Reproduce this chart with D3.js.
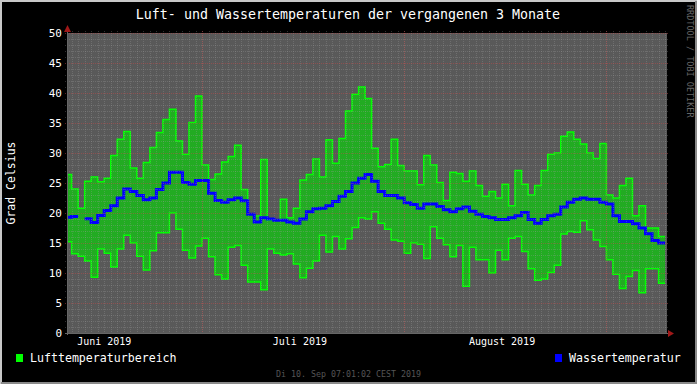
<!DOCTYPE html>
<html><head><meta charset="utf-8">
<script src="https://cdn.jsdelivr.net/npm/d3@7"></script>
<style>html,body{margin:0;padding:0;background:#000;overflow:hidden}</style>
</head><body><svg id="c" width="697" height="384"></svg>
<script>
// ---- data (one value per day, first entry = partial day 10. Juni) ----
const firstDay = "2019-06-10";
const airMax = [26.4,24.0,20.8,25.3,26.0,25.2,25.8,29.6,32.3,33.6,27.5,25.8,28.4,30.9,33.4,35.6,37.3,32.0,29.8,35.1,39.5,
 28.0,25.6,26.5,28.5,29.4,31.3,23.9,19.8,19.5,28.9,18.8,18.8,22.3,19.2,20.8,25.5,26.4,29.0,26.0,32.2,28.3,32.4,37.0,39.8,41.0,39.1,30.8,27.7,28.1,32.3,27.9,
 27.0,27.0,24.7,29.6,28.0,25.1,22.1,26.8,26.6,25.3,27.0,24.6,22.8,23.6,22.5,24.8,21.2,27.1,24.8,23.0,24.6,27.1,29.8,30.0,32.8,33.5,32.3,31.5,30.0,29.1,31.6,
 23.0,22.5,24.6,25.8,19.55,21.2,17.5,17.5,16.1];
const airMin = [15.2,13.2,12.8,12.0,9.3,14.0,13.3,11.0,14.0,16.3,15.0,12.8,10.5,13.7,16.7,16.7,20.0,17.3,13.8,12.5,14.5,
 15.8,12.7,9.7,9.0,14.3,14.6,11.3,8.5,8.5,7.2,14.0,13.3,13.0,13.2,11.5,9.2,10.8,12.0,16.3,13.5,16.1,14.0,15.7,17.6,19.2,19.0,20.2,18.3,17.3,15.5,15.3,
 13.3,15.0,14.8,12.4,17.7,15.8,14.7,12.7,14.6,7.8,14.3,12.2,12.2,10.0,13.8,12.2,15.8,16.1,13.6,10.7,8.8,9.0,10.1,11.3,16.5,16.9,16.8,18.7,17.2,15.5,14.4,
 12.2,9.8,7.4,9.4,10.4,6.7,10.7,10.7,8.3];
const water = [19.3,19.4,null,19.05,18.4,19.6,20.4,21.2,22.5,24.0,23.6,22.9,22.2,22.5,23.9,25.0,26.8,26.8,25.1,24.8,25.4,
 25.4,23.3,22.1,21.8,22.2,22.5,22.05,19.8,18.5,19.2,19.0,18.8,18.8,18.5,18.3,19.0,20.2,20.7,20.8,21.2,21.9,22.8,23.6,25.0,25.8,26.4,25.3,23.6,22.9,22.9,22.5,
 21.7,21.4,20.8,21.5,21.5,21.1,20.55,20.2,20.7,21.0,20.3,19.8,19.4,19.2,18.9,18.9,19.2,19.55,20.1,18.9,18.3,18.9,19.55,19.8,21.0,21.8,22.3,22.5,22.3,22.3,21.8,
 21.5,19.55,18.6,18.6,18.2,17.5,16.55,15.4,15.0];
const yTicks = [0,5,10,15,20,25,30,35,40,45,50];
const monthLabels = ["Juni 2019","Juli 2019","August 2019"];
const title = "Luft- und Wassertemperaturen der vergangenen 3 Monate";
const yLabel = "Grad Celsius";
const legendNames = ["Lufttemperaturbereich","Wassertemperatur"];
const stamp = "Di 10. Sep 07:01:02 CEST 2019";

// ---- layout ----
const W=697,H=384, L=67, R=667, T=33, B=333;
const FONT="'DejaVu Sans Mono', monospace";
const svg=d3.select("#c");
svg.append("rect").attr("width",W).attr("height",H).attr("fill","#000");
// frame
svg.append("path").attr("d",`M1,${H}V1H${W}`).attr("stroke","#c8c8c8").attr("stroke-width",2).attr("fill","none");
svg.append("path").attr("d",`M1,${H-1}H${W-1}V1`).attr("stroke","#8a8a8a").attr("stroke-width",2).attr("fill","none");

const tStart=new Date(Date.UTC(2019,5,10,7,1,2)), tEnd=new Date(Date.UTC(2019,8,10,7,1,2));
const x=d3.scaleUtc().domain([tStart,tEnd]).range([L,R]);
const y=d3.scaleLinear().domain([0,50]).range([B,T]);

const d0=new Date(firstDay+"T00:00:00Z");
const days=airMax.map((v,i)=>{
  const s=d3.utcDay.offset(d0,i), e=d3.utcDay.offset(d0,i+1);
  return {s: s<tStart?tStart:s, e, max:v, min:airMin[i], w:water[i]};
});
function pts(key){ const p=[]; days.forEach(d=>{p.push({t:d.s,v:d[key],d});p.push({t:d.e,v:d[key],d});}); return p; }

svg.append("rect").attr("x",L).attr("y",T).attr("width",R-L).attr("height",B-T).attr("fill","#595959");

const g=svg.append("g");
const pMin=pts("min"), pMax=pts("max");
g.append("path").datum(pMax.map((p,i)=>({t:p.t,hi:p.v,lo:pMin[i].v})))
 .attr("d",d3.area().x(d=>x(d.t)).y0(d=>y(d.lo)).y1(d=>y(d.hi))).attr("fill","#22ab22");
const line=d3.line().defined(d=>d.v!=null).x(d=>x(d.t)).y(d=>y(d.v));
g.append("path").datum(pMax).attr("d",line).attr("fill","none").attr("stroke","#00ff00").attr("stroke-width",1.5);
g.append("path").datum(pMin).attr("d",line).attr("fill","none").attr("stroke","#00ff00").attr("stroke-width",1.5);
g.append("path").datum(pts("w")).attr("d",line).attr("fill","none").attr("stroke","#0000ff").attr("stroke-width",3);

// grid on top
const grid=svg.append("g");
d3.range(0,51,1).forEach(v=>{ if(v%5===0) return;
  grid.append("line").attr("x1",L-2).attr("x2",R+2).attr("y1",y(v)+0.5).attr("y2",y(v)+0.5)
   .attr("stroke","#a0a0a0").attr("stroke-opacity",0.3).attr("stroke-dasharray","1,1"); });
const dayTicks=d3.utcDay.range(d3.utcDay.ceil(tStart),tEnd);
dayTicks.forEach(t=>{
  grid.append("line").attr("x1",Math.round(x(t))+0.5).attr("x2",Math.round(x(t))+0.5).attr("y1",T-2).attr("y2",B+2)
   .attr("stroke","#a0a0a0").attr("stroke-opacity",0.3).attr("stroke-dasharray","1,1"); });
yTicks.forEach(v=>{
  grid.append("line").attr("x1",L-2).attr("x2",R+2).attr("y1",y(v)+0.5).attr("y2",y(v)+0.5)
   .attr("stroke","#c04848").attr("stroke-opacity",0.5).attr("stroke-dasharray","1,1"); });
const months=d3.utcMonth.range(d3.utcMonth.ceil(tStart),tEnd);
months.forEach(t=>{
  grid.append("line").attr("x1",Math.round(x(t))+0.5).attr("x2",Math.round(x(t))+0.5).attr("y1",T-2).attr("y2",B+2)
   .attr("stroke","#c04848").attr("stroke-opacity",0.5).attr("stroke-dasharray","1,1"); });

// axes
svg.append("line").attr("x1",L-2).attr("x2",R+3).attr("y1",B+0.5).attr("y2",B+0.5).attr("stroke","#666");
svg.append("line").attr("x1",L+0.5).attr("x2",L+0.5).attr("y1",T-3).attr("y2",B+2).attr("stroke","#666");
svg.append("path").attr("d",`M${L-3},${T-1}L${L+0.5},${T-8}L${L+4},${T-1}Z`).attr("fill","#a01818");
svg.append("path").attr("d",`M${R+1},${B-3}L${R+7},${B+0.5}L${R+1},${B+4}Z`).attr("fill","#a01818");

// y labels
svg.append("g").selectAll("text").data(yTicks).join("text")
 .attr("x",L-5).attr("y",d=>y(d)+4).attr("text-anchor","end").attr("fill","#fff")
 .attr("font-family",FONT).attr("font-size",11).text(d=>d);
// month labels at mid-month
svg.append("g").selectAll("text").data(months.slice(0,3).map((m,i)=>({t:d3.utcDay.offset(d3.utcMonth.offset(m,-1),15),l:monthLabels[i]}))).join("text")
 .attr("x",d=>x(d.t)).attr("y",B+12).attr("text-anchor","middle").attr("fill","#fff")
 .attr("font-family",FONT).attr("font-size",10).text(d=>d.l);

svg.append("text").attr("x",348).attr("y",19).attr("text-anchor","middle").attr("fill","#fff")
 .attr("font-family",FONT).attr("font-size",13.3).text(title);
svg.append("text").attr("transform",`translate(15,183) rotate(-90)`).attr("text-anchor","middle").attr("fill","#fff")
 .attr("font-family",FONT).attr("font-size",11.5).text(yLabel);
svg.append("text").attr("transform",`translate(687,5) rotate(90)`).attr("text-anchor","start").attr("fill","#666")
 .attr("font-family",FONT).attr("font-size",8.5).text("RRDTOOL / TOBI OETIKER");

// legend
svg.append("rect").attr("x",16).attr("y",354).attr("width",7).attr("height",8).attr("fill","#00ff00");
svg.append("text").attr("x",30).attr("y",362).attr("fill","#fff").attr("font-family",FONT).attr("font-size",11.6).text(legendNames[0]);
svg.append("rect").attr("x",555).attr("y",354).attr("width",7).attr("height",8).attr("fill","#0000ff");
svg.append("text").attr("x",569).attr("y",362).attr("fill","#fff").attr("font-family",FONT).attr("font-size",11.6).text(legendNames[1]);
svg.append("text").attr("x",348.5).attr("y",377).attr("text-anchor","middle").attr("fill","#555")
 .attr("font-family",FONT).attr("font-size",8.3).text(stamp);
</script></body></html>
